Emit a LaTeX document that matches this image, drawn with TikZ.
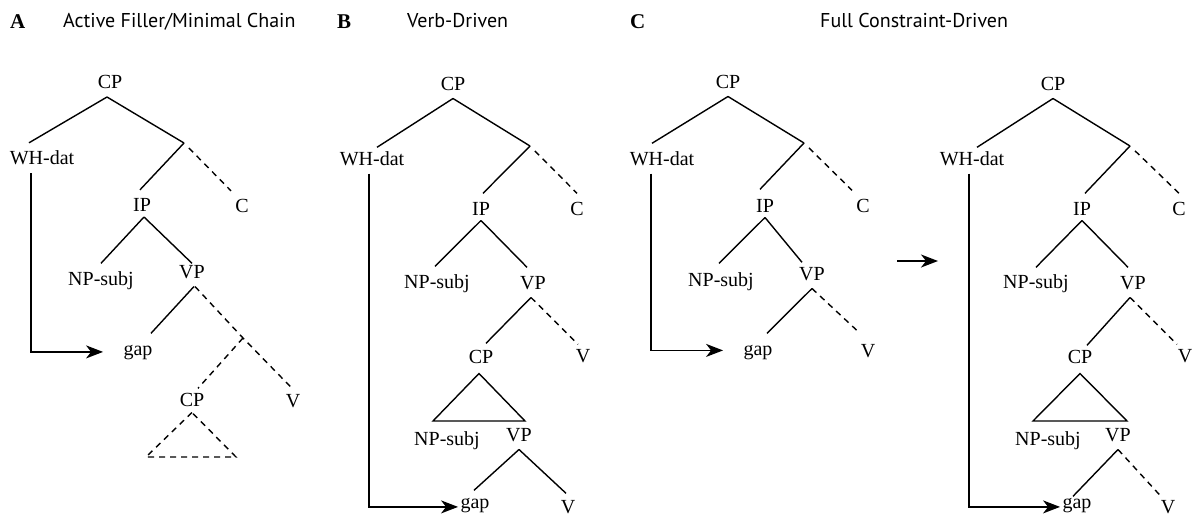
\documentclass[tikz,border=0pt]{standalone}
\usepackage{fontspec}
\setmainfont{Liberation Serif}
\newfontfamily\titlefont{PT Sans}
\usetikzlibrary{arrows.meta}
\begin{document}
\begin{tikzpicture}[x=1pt,y=-1pt,
  lab/.style={font=\fontsize{20}{24}\selectfont, inner sep=0pt, outer sep=4.5pt,
    text height=13.2pt, text depth=4pt, anchor=base},
  ttl/.style={font=\titlefont\fontsize{20}{24}\selectfont, inner sep=0pt, anchor=base west},
  pnl/.style={font=\bfseries\fontsize{21}{24}\selectfont, inner sep=0pt, anchor=base west},
  edge/.style={line width=1.4pt},
  dsh/.style={line width=1.4pt, dash pattern=on 6pt off 5pt},
  arr/.style={line width=1.4pt, -{Stealth[length=17pt,width=13pt,inset=5pt]}}]
\useasboundingbox (0,0) rectangle (1199,515);

% ---------------- titles
\node[pnl] (pA) at (10,28) {A};
\node[ttl] (tA) at (63,27) {Active Filler/Minimal Chain};
\node[pnl] (pB) at (337,28) {B};
\node[ttl] (tB) at (407,27) {Verb-Driven};
\node[pnl] (pC) at (630,28) {C};
\node[ttl] (tC) at (820,27) {Full Constraint-Driven};

% ---------------- panel A
\node[lab] (aCP) at (110,88.5) {CP};
\node[lab] (aWH) at (42,164.5) {WH-dat};
\node[lab] (aIP) at (142,211.5) {IP};
\node[lab] (aC) at (242,212.5) {C};
\node[lab] (aNP) at (101,285) {NP-subj};
\node[lab] (aVP) at (192,278) {VP};
\node[lab] (aGap) at (138,355) {gap};
\node[lab] (aCP2) at (192,406) {CP};
\node[lab] (aV) at (293,407) {V};
\coordinate (aJ1) at (184,143);
\coordinate (aJ2) at (243,338);
\coordinate (aTL) at (146,457);
\coordinate (aTR) at (236,457);

\draw[edge] ([xshift=-3pt]aCP.south) -- ([xshift=-13pt,yshift=4pt]aWH.north);
\draw[edge] ([xshift=-3pt]aCP.south) -- (aJ1);
\draw[edge] (aJ1) -- ([xshift=-2pt,yshift=4pt]aIP.north);
\draw[dsh,shorten <=7pt] (aJ1) -- ([xshift=-11pt,yshift=4pt]aC.north);
\draw[edge] ([xshift=2pt,yshift=3pt]aIP.south) -- ([yshift=4pt]aNP.north);
\draw[edge] ([xshift=2pt,yshift=3pt]aIP.south) -- ([yshift=-3pt]aVP.north);
\draw[edge] ([xshift=2pt]aVP.south) -- ([xshift=13pt,yshift=4pt]aGap.north);
\draw[dsh] ([xshift=3pt]aVP.south) -- (aJ2) -- (aV.north);
\draw[dsh] (aJ2) -- ([xshift=6pt]aCP2.north);
\draw[dsh] ([yshift=2pt]aCP2.south) -- (aTL) -- (aTR) -- cycle;
\draw[arr] ([xshift=-11pt]aWH.south) |- ([xshift=-16pt,yshift=-1.5pt]aGap.west);

% ---------------- panel B
\node[lab] (bCP) at (453,90) {CP};
\node[lab] (bWH) at (372,165) {WH-dat};
\node[lab] (bIP) at (481,215) {IP};
\node[lab] (bC) at (577,215) {C};
\node[lab] (bNP) at (437,288) {NP-subj};
\node[lab] (bVP) at (533,289) {VP};
\node[lab] (bCP2) at (481,363) {CP};
\node[lab] (bV) at (583,362) {V};
\node[lab] (bNP2) at (447,445) {NP-subj};
\node[lab] (bVP2) at (519,441) {VP};
\node[lab] (bGap) at (475,508) {gap};
\node[lab] (bV2) at (568,513) {V};
\coordinate (bJ1) at (530,146);
\coordinate (bTL) at (433,421);
\coordinate (bTR) at (525,421);

\draw[edge] (bCP.south) -- ([xshift=5pt]bWH.north);
\draw[edge] (bCP.south) -- (bJ1);
\draw[edge] (bJ1) -- ([xshift=2pt,yshift=4pt]bIP.north);
\draw[dsh,shorten <=7pt] (bJ1) -- ([yshift=4pt]bC.north);
\draw[edge] ([yshift=3pt]bIP.south) -- ([xshift=-2pt,yshift=4pt]bNP.north);
\draw[edge] ([yshift=3pt]bIP.south) -- ([xshift=-6pt,yshift=4pt]bVP.north);
\draw[edge] ([xshift=-2pt]bVP.south) -- ([xshift=5pt,yshift=2pt]bCP2.north);
\draw[dsh] ([xshift=-2pt]bVP.south) -- ([xshift=-5pt]bV.north);
\draw[edge] ([xshift=-2pt,yshift=-2pt]bCP2.south) -- (bTL) -- (bTR) -- cycle;
\draw[edge] (bVP2.south) -- ([xshift=-1pt]bGap.north);
\draw[edge] (bVP2.south) -- ([xshift=-2pt,yshift=2pt]bV2.north);
\draw[arr] ([xshift=-3pt]bWH.south) |- ([xshift=2pt,yshift=-3.5pt]bGap.west);

% ---------------- panel C (left)
\node[lab] (cCP) at (728,88) {CP};
\node[lab] (cWH) at (662,165) {WH-dat};
\node[lab] (cIP) at (765,212) {IP};
\node[lab] (cC) at (863,212) {C};
\node[lab] (cNP) at (721,286) {NP-subj};
\node[lab] (cVP) at (812,280) {VP};
\node[lab] (cGap) at (758,355) {gap};
\node[lab] (cV) at (868,357) {V};
\coordinate (cJ1) at (804,143);

\draw[edge] (cCP.south) -- ([xshift=-10pt,yshift=4pt]cWH.north);
\draw[edge] (cCP.south) -- (cJ1);
\draw[edge] (cJ1) -- ([xshift=-5pt,yshift=5pt]cIP.north);
\draw[dsh,shorten <=7pt] (cJ1) -- ([xshift=-11pt,yshift=4pt]cC.north);
\draw[edge] ([yshift=3pt]cIP.south) -- ([xshift=-2pt,yshift=5pt]cNP.north);
\draw[edge] ([yshift=3pt]cIP.south) -- ([xshift=-10pt]cVP.north);
\draw[edge] (cVP.south) -- ([xshift=9pt,yshift=4pt]cGap.north);
\draw[dsh] (cVP.south) -- ([xshift=-8pt,yshift=6pt]cV.north);
\draw[arr] ([xshift=-11pt]cWH.south) |- ([xshift=-16pt]cGap.west);

% ---------------- transition arrow
\coordinate (m1) at (897,261);
\coordinate (m2) at (938,261);
\draw[arr] (m1) -- (m2);

% ---------------- panel C (right)
\node[lab] (dCP) at (1053,90) {CP};
\node[lab] (dWH) at (972,165) {WH-dat};
\node[lab] (dIP) at (1082,215) {IP};
\node[lab] (dC) at (1179,215) {C};
\node[lab] (dNP) at (1036,288) {NP-subj};
\node[lab] (dVP) at (1133,289) {VP};
\node[lab] (dCP2) at (1080,363) {CP};
\node[lab] (dV) at (1185,362) {V};
\node[lab] (dNP2) at (1048,445) {NP-subj};
\node[lab] (dVP2) at (1118,441) {VP};
\node[lab] (dGap) at (1077,508) {gap};
\node[lab] (dV2) at (1168,513) {V};
\coordinate (dJ1) at (1130,146);
\coordinate (dTL) at (1033,421);
\coordinate (dTR) at (1127,421);

\draw[edge] (dCP.south) -- ([xshift=5pt]dWH.north);
\draw[edge] (dCP.south) -- (dJ1);
\draw[edge] (dJ1) -- ([xshift=3pt,yshift=4pt]dIP.north);
\draw[dsh,shorten <=7pt] (dJ1) -- ([yshift=4pt]dC.north);
\draw[edge] ([yshift=3pt]dIP.south) -- ([yshift=3pt]dNP.north);
\draw[edge] ([yshift=3pt]dIP.south) -- ([xshift=-5pt,yshift=4pt]dVP.north);
\draw[edge] ([xshift=-3pt]dVP.south) -- ([xshift=7pt]dCP2.north);
\draw[dsh] ([xshift=-3pt]dVP.south) -- ([xshift=-8pt]dV.north);
\draw[edge] ([yshift=-2pt]dCP2.south) -- (dTL) -- (dTR) -- cycle;
\draw[edge] (dVP2.south) -- ([xshift=-4pt,yshift=-6pt]dGap.north);
\draw[dsh] (dVP2.south) -- ([xshift=-8pt]dV2.north);
\draw[arr] ([xshift=-3pt]dWH.south) |- ([xshift=2pt,yshift=-3.5pt]dGap.west);
\end{tikzpicture}
\end{document}
